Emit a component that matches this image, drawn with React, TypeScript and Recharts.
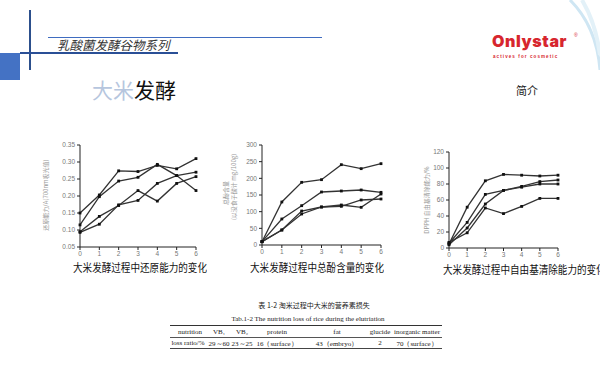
import React from 'react'
import { LineChart, Line, XAxis, YAxis } from 'recharts'

// 发酵时间 (d)
const days = [0, 1, 2, 3, 4, 5, 6]

// 还原能力 (700nm 吸光值)
const reduceA = [0.15, 0.203, 0.274, 0.272, 0.29, 0.28, 0.31]
const reduceB = [0.115, 0.198, 0.244, 0.255, 0.293, 0.26, 0.216]
const reduceC = [0.095, 0.14, 0.172, 0.216, 0.185, 0.237, 0.257]
const reduceD = [0.093, 0.117, 0.174, 0.187, 0.237, 0.26, 0.27]
const reduceTicks = [0.05, 0.1, 0.15, 0.2, 0.25, 0.3, 0.35]

// 总酚含量 (mg/100g)
const phenolA = [10, 129, 188, 196, 241, 229, 244]
const phenolB = [10, 78, 118, 159, 162, 165, 158]
const phenolC = [10, 45, 102, 114, 120, 113, 153]
const phenolD = [10, 45, 93, 114, 116, 135, 138]
const phenolTicks = [0, 50, 100, 150, 200, 250, 300]

// DPPH 自由基清除能力 (%)
const dpphA = [5, 51, 84, 92, 91, 90, 91]
const dpphB = [6, 32, 67, 72, 77, 83, 85]
const dpphC = [4, 25, 55, 72, 76, 80, 80]
const dpphD = [7, 19, 50, 43, 52, 62, 62]
const dpphTicks = [0, 20, 40, 60, 80, 100, 120]

const tableHead = ['nutrition', 'VB\u2081', 'VB\u2082', 'protein', 'fat', 'glucide', 'inorganic matter']
const tableRow = ['loss ratio/%', '29\uFF5E60', '23\uFF5E25', '16\uFF08surface\uFF09', '43\uFF08embryo\uFF09', '2', '70\uFF08surface\uFF09']
const colCenters = [190, 219, 242, 277, 337, 380, 417]

const toRows = (a: number[], b: number[], c: number[], d: number[]) =>
  days.map((day, i) => ({ day, s1: a[i], s2: b[i], s3: c[i], s4: d[i] }))

const cjk = '"Noto Sans CJK SC", "Noto Sans", sans-serif'
const serif = '"Liberation Serif", "DejaVu Serif", serif'

const SquareDot = (props: any) => {
  const { cx, cy } = props
  if (cx == null || cy == null) return null
  return <rect x={cx - 1.4} y={cy - 1.4} width={2.8} height={2.8} fill="#111" />
}

type ChartProps = {
  rows: any[]
  ticks: number[]
  fmt?: (v: number) => string
  left: number
  top: number
  width: number
  plotH: number
  yWidth: number
  right: number
}

function SmallChart({ rows, ticks, fmt, left, top, width, plotH, yWidth, right }: ChartProps) {
  const tick = { fontSize: 6.5, fill: '#777', fontFamily: 'Liberation Sans, Arial, sans-serif' }
  const xH = 23
  return (
    <div style={{ position: 'absolute', left, top }}>
      <LineChart width={width} height={5 + plotH + xH} data={rows} margin={{ top: 5, right, bottom: 0, left: 0 }}>
        <XAxis
          dataKey="day"
          type="number"
          domain={[0, 6]}
          ticks={days}
          stroke="#222"
          tickSize={3}
          tickMargin={1}
          tick={tick}
          height={xH}
        />
        <YAxis
          type="number"
          domain={[ticks[0], ticks[ticks.length - 1]]}
          ticks={ticks}
          tickFormatter={fmt}
          stroke="#222"
          tickSize={3}
          tickMargin={2}
          tick={tick}
          width={yWidth}
          interval={0}
        />
        {['s1', 's2', 's3', 's4'].map((k) => (
          <Line
            key={k}
            dataKey={k}
            type="linear"
            stroke="#333"
            strokeWidth={1.3}
            dot={<SquareDot />}
            isAnimationActive={false}
          />
        ))}
      </LineChart>
    </div>
  )
}

const abs = (style: React.CSSProperties): React.CSSProperties => ({ position: 'absolute', ...style })

function VLabel({ x, y, text }: { x: number; y: number; text: string }) {
  return (
    <div style={abs({ left: x, top: y, width: 0, height: 0 })}>
      <div style={{ position: 'absolute', transform: 'translate(-50%,-50%) rotate(-90deg)', fontSize: 6, color: '#999', whiteSpace: 'nowrap' }}>
        {text}
      </div>
    </div>
  )
}

function Caption({ x, y, text }: { x: number; y: number; text: string }) {
  return (
    <div style={abs({ left: x, top: y, fontSize: 11, color: '#111', whiteSpace: 'nowrap', transform: 'scaleX(0.87)', transformOrigin: 'left', lineHeight: '14px' })}>
      {text}
    </div>
  )
}

export default function App() {
  return (
    <div style={{ position: 'relative', width: 600, height: 374, background: '#fff', overflow: 'hidden', fontFamily: cjk }}>
      <style>{'body{margin:0}'}</style>

      {/* 页眉装饰 */}
      <div style={abs({ left: 0, top: 53, width: 20, height: 27, background: '#4472c4' })} />
      <div style={abs({ left: 29, top: 10, width: 1.5, height: 60, background: '#2c4f8c' })} />
      <div style={abs({ left: 48, top: 37, width: 274, height: 1.2, background: '#3f6cc0' })} />
      <div style={abs({ left: 20, top: 52, width: 158, height: 2, background: '#2a4f96' })} />
      <div style={abs({ left: 57, top: 37, fontSize: 12.5, fontStyle: 'italic', color: '#333', whiteSpace: 'nowrap', lineHeight: '16px' })}>
        乳酸菌发酵谷物系列
      </div>
      <svg style={abs({ left: 560, top: 0 })} width={40} height={80}>
        <path d="M10 0 C 30 20, 38 45, 40 70" stroke="#cfe6f3" strokeWidth={3} fill="none" />
        <path d="M22 0 C 34 20, 38 40, 40 55" stroke="#e3f1f8" strokeWidth={4} fill="none" />
      </svg>
      <div style={abs({ left: 492, top: 31, fontSize: 16, fontWeight: 900, color: '#d7262e', fontFamily: 'Inter, "Liberation Sans", sans-serif', letterSpacing: 0.6, lineHeight: '20px' })}>
        Onlystar
      </div>
      <div style={abs({ left: 574, top: 32, fontSize: 5, color: '#d7262e', fontFamily: 'Liberation Sans, sans-serif' })}>®</div>
      <div style={abs({ left: 493, top: 54, fontSize: 4.5, color: '#d7262e', letterSpacing: 1.1, fontWeight: 700, fontFamily: 'Liberation Sans, sans-serif', whiteSpace: 'nowrap' })}>
        actives for cosmetic
      </div>

      <div style={abs({ left: 92, top: 76, fontSize: 21, lineHeight: '26px', whiteSpace: 'nowrap' })}>
        <span style={{ color: '#b6c6de' }}>大米</span>
        <span style={{ color: '#111' }}>发酵</span>
      </div>
      <div style={abs({ left: 516, top: 82, fontSize: 11, lineHeight: '16px', color: '#222' })}>简介</div>

      {/* 图 1：还原能力 */}
      <SmallChart rows={toRows(reduceA, reduceB, reduceC, reduceD)} ticks={reduceTicks} fmt={(v) => v.toFixed(2)} left={40} top={140} width={165} plotH={102} yWidth={40} right={9} />
      <VLabel x={45} y={195} text="还原能力/A(700nm吸光值)" />
      <Caption x={73} y={260} text="大米发酵过程中还原能力的变化" />

      {/* 图 2：总酚含量 */}
      <SmallChart rows={toRows(phenolA, phenolB, phenolC, phenolD)} ticks={phenolTicks} left={220} top={140} width={165} plotH={100} yWidth={42} right={4} />
      <VLabel x={225} y={193} text="总酚含量" />
      <VLabel x={233} y={187} text="(以没食子酸计 mg/100g)" />
      <Caption x={250} y={260} text="大米发酵过程中总酚含量的变化" />

      {/* 图 3：DPPH 清除率 */}
      <SmallChart rows={toRows(dpphA, dpphB, dpphC, dpphD)} ticks={dpphTicks} left={400} top={147} width={162} plotH={96} yWidth={49} right={4} />
      <VLabel x={426} y={200} text="DPPH 自由基清除能力/%" />
      <Caption x={443} y={262} text="大米发酵过程中自由基清除能力的变化" />

      {/* 表 1-2 */}
      <div style={abs({ left: 314, top: 300, fontSize: 7, color: '#222', fontFamily: '"Noto Sans CJK SC", serif', whiteSpace: 'nowrap', transform: 'translateX(-50%)' })}>
        表 1-2 淘米过程中大米的营养素损失
      </div>
      <div style={abs({ left: 308, top: 315, fontSize: 7, color: '#222', fontFamily: serif, whiteSpace: 'nowrap', transform: 'translateX(-50%)' })}>
        Tab.1-2 The nutrition loss of rice during the elutriation
      </div>
      <div style={abs({ left: 170, top: 324.5, width: 272, height: 1.3, background: '#333' })} />
      <div style={abs({ left: 170, top: 337, width: 272, height: 0.6, background: '#555' })} />
      <div style={abs({ left: 170, top: 348, width: 272, height: 1, background: '#444' })} />
      {tableHead.map((t, i) => (
        <div key={'h' + i} style={abs({ left: colCenters[i], top: 327.5, fontSize: 7, color: '#222', fontFamily: serif, whiteSpace: 'nowrap', transform: 'translateX(-50%)' })}>
          {t}
        </div>
      ))}
      {tableRow.map((t, i) => (
        <div key={'r' + i} style={abs({ left: colCenters[i] + (i === 0 ? -2 : 0), top: 338.5, fontSize: 7, color: '#222', fontFamily: serif, whiteSpace: 'nowrap', transform: 'translateX(-50%)' })}>
          {t}
        </div>
      ))}
    </div>
  )
}
